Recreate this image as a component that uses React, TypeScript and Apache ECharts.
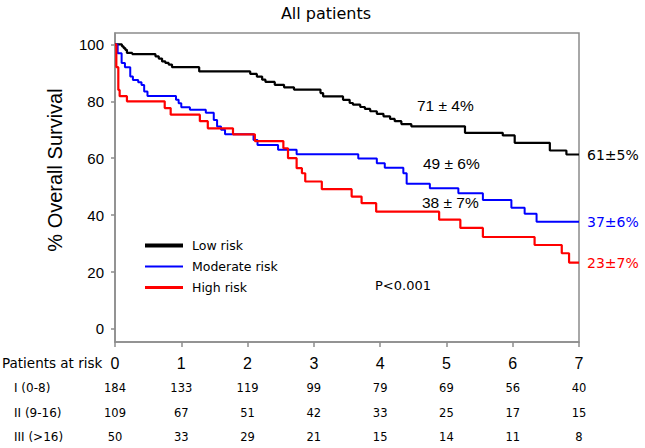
import React, { useEffect, useRef } from "react";
import * as echarts from "echarts";

// ---- Data ----
const yearTicks = [0, 1, 2, 3, 4, 5, 6, 7];
const yTickValues = [0, 20, 40, 60, 80, 100];

const lowRiskTime = [0, 0.105, 0.13, 0.155, 0.18, 0.26, 0.61, 0.66, 0.71, 0.76, 0.81, 0.86, 1.27, 2.04, 2.14, 2.22, 2.27, 2.41, 2.55, 2.7, 3.1, 3.14, 3.44, 3.54, 3.59, 3.7, 3.77, 3.85, 3.95, 4.05, 4.15, 4.22, 4.32, 4.47, 5.28, 5.85, 6.03, 6.56, 6.81, 7];
const lowRiskSurv = [100, 99.3, 98.7, 98.1, 97.0, 96.6, 95.8, 95.0, 94.0, 93.5, 92.9, 92.0, 90.5, 89.6, 88.7, 87.6, 86.8, 85.8, 84.9, 84.1, 82.9, 81.7, 80.5, 79.4, 78.8, 78.0, 77.3, 76.5, 75.6, 74.7, 73.8, 73.0, 72.0, 71.2, 68.9, 68.0, 65.4, 62.7, 61.3, 61.3];

const modRiskTime = [0, 0.04, 0.1, 0.15, 0.23, 0.27, 0.35, 0.4, 0.44, 0.49, 0.92, 0.96, 1.0, 1.13, 1.37, 1.49, 1.54, 1.6, 1.66, 2.09, 2.15, 2.46, 2.74, 3.67, 3.95, 4.07, 4.35, 4.4, 4.75, 5.18, 5.55, 5.98, 6.18, 6.36, 7];
const modRiskSurv = [100, 96.9, 93.5, 92.0, 88.7, 87.5, 86.7, 85.7, 83.4, 81.9, 80.5, 79.3, 77.9, 77.0, 76.0, 73.4, 71.1, 70.0, 68.4, 66.4, 64.6, 63.0, 61.4, 59.9, 58.2, 56.6, 54.7, 51.0, 49.4, 47.7, 45.3, 42.6, 40.5, 37.7, 37.7];

const highRiskTime = [0, 0.02, 0.05, 0.07, 0.18, 0.75, 0.84, 1.28, 1.4, 1.78, 2.11, 2.54, 2.61, 2.74, 2.82, 2.87, 3.12, 3.57, 3.72, 3.94, 4.89, 5.21, 5.55, 6.33, 6.74, 6.85, 7];
const highRiskSurv = [100, 92, 84, 81.8, 80.0, 77.6, 75.3, 73.0, 70.5, 68.4, 66.0, 63.5, 60.0, 56.5, 54.7, 51.8, 49.1, 46.5, 44.2, 41.2, 38.4, 35.5, 32.3, 29.5, 26.6, 23.3, 23.3];

const atRiskLow = [184, 133, 119, 99, 79, 69, 56, 40];
const atRiskMod = [109, 67, 51, 42, 33, 25, 17, 15];
const atRiskHigh = [50, 33, 29, 21, 15, 14, 11, 8];
const rowLabels = ["I (0-8)", "II (9-16)", "III (>16)"];

const seriesNames = ["Low risk", "Moderate risk", "High risk"];

const zip = (t: number[], v: number[]) => t.map((x, i) => [x, v[i]]);

const GRAY = "#8c8c8c";
const SANS = "DejaVu Sans";
const ARIAL = "Liberation Sans";

export default function App() {
  const ref = useRef<HTMLDivElement>(null);

  useEffect(() => {
    if (!ref.current) return;
    const chart = echarts.init(ref.current, null, { renderer: "svg" });

    const rowAxis = (vals: number[], offset: number) => ({
      type: "value",
      gridIndex: 0,
      position: "bottom",
      offset,
      min: 0,
      max: 7,
      interval: 1,
      axisLine: { show: false, onZero: false },
      axisTick: { show: false },
      splitLine: { show: false },
      axisLabel: {
        margin: 0,
        fontFamily: SANS,
        fontSize: 11.5,
        color: "#000",
        formatter: (v: number) => String(vals[Math.round(v)]),
      },
    });

    const option: any = {
      animation: false,
      textStyle: { fontFamily: SANS },
      grid: {
        left: 115,
        right: 66,
        top: 33,
        bottom: 106,
        show: true,
        borderColor: GRAY,
        borderWidth: 1.5,
        backgroundColor: "transparent",
      },
      xAxis: [
        {
          type: "value",
          min: 0,
          max: 7,
          interval: 1,
          axisLine: { show: true, onZero: false, lineStyle: { color: GRAY, width: 1.5 } },
          axisTick: { show: true, length: 5, lineStyle: { color: GRAY, width: 1.5 } },
          splitLine: { show: false },
          axisLabel: {
            margin: 13,
            fontFamily: ARIAL,
            fontSize: 16,
            color: "#000",
            formatter: (v: number) => String(yearTicks[Math.round(v)]),
          },
        },
        rowAxis(atRiskLow, 40),
        rowAxis(atRiskMod, 64.5),
        rowAxis(atRiskHigh, 89),
      ],
      yAxis: {
        type: "value",
        min: -4.6,
        max: 104,
        axisLine: { show: true, onZero: false, lineStyle: { color: GRAY, width: 1.5 } },
        axisTick: { show: true, length: 4, customValues: yTickValues, lineStyle: { color: GRAY, width: 1.5 } },
        splitLine: { show: false },
        axisLabel: {
          customValues: yTickValues,
          margin: 11,
          fontFamily: ARIAL,
          fontSize: 15,
          color: "#000",
        },
      },
      legend: {
        orient: "vertical",
        left: 140,
        top: 234,
        itemWidth: 38,
        itemHeight: 14,
        itemGap: 8,
        symbolKeepAspect: true,
        textStyle: { fontFamily: SANS, fontSize: 12.5, color: "#000", padding: [0, 0, 0, 4] },
        data: [
          { name: seriesNames[0], icon: "path://M0,0H38V4H0Z" },
          { name: seriesNames[1], icon: "path://M0,0H38V2H0Z" },
          { name: seriesNames[2], icon: "path://M0,0H38V3H0Z" },
        ],
      },
      series: [
        {
          name: seriesNames[0],
          type: "line",
          step: "end",
          symbol: "none",
          xAxisIndex: 0,
          lineStyle: { color: "#000000", width: 2.2 },
          itemStyle: { color: "#000000" },
          data: zip(lowRiskTime, lowRiskSurv),
        },
        {
          name: seriesNames[1],
          type: "line",
          step: "end",
          symbol: "none",
          xAxisIndex: 0,
          lineStyle: { color: "#0000ff", width: 2 },
          itemStyle: { color: "#0000ff" },
          data: zip(modRiskTime, modRiskSurv),
        },
        {
          name: seriesNames[2],
          type: "line",
          step: "end",
          symbol: "none",
          xAxisIndex: 0,
          lineStyle: { color: "#ff0000", width: 2.2 },
          itemStyle: { color: "#ff0000" },
          data: zip(highRiskTime, highRiskSurv),
        },
      ],
      graphic: [
        { type: "text", x: 326, y: 13, style: { text: "All patients", fontFamily: SANS, fontSize: 16, fill: "#000", align: "center", verticalAlign: "middle" } },
        { type: "text", x: 55, y: 170, rotation: Math.PI / 2, style: { text: "% Overall Survival", fontFamily: ARIAL, fontSize: 20, fill: "#000", align: "center", verticalAlign: "middle" } },
        { type: "text", x: 417, y: 105, style: { text: "71 ± 4%", fontFamily: ARIAL, fontSize: 15.5, fill: "#000", align: "left", verticalAlign: "middle" } },
        { type: "text", x: 423, y: 163, style: { text: "49 ± 6%", fontFamily: ARIAL, fontSize: 15.5, fill: "#000", align: "left", verticalAlign: "middle" } },
        { type: "text", x: 422, y: 202, style: { text: "38 ± 7%", fontFamily: ARIAL, fontSize: 15.5, fill: "#000", align: "left", verticalAlign: "middle" } },
        { type: "text", x: 587, y: 155, style: { text: "61±5%", fontFamily: SANS, fontSize: 14, fill: "#000", align: "left", verticalAlign: "middle" } },
        { type: "text", x: 587, y: 222, style: { text: "37±6%", fontFamily: SANS, fontSize: 14, fill: "#0000ff", align: "left", verticalAlign: "middle" } },
        { type: "text", x: 587, y: 263, style: { text: "23±7%", fontFamily: SANS, fontSize: 14, fill: "#ff0000", align: "left", verticalAlign: "middle" } },
        { type: "text", x: 375, y: 285, style: { text: "P<0.001", fontFamily: SANS, fontSize: 13, fill: "#000", align: "left", verticalAlign: "middle" } },
        { type: "text", x: 2, y: 363, style: { text: "Patients at risk", fontFamily: SANS, fontSize: 13.5, fill: "#000", align: "left", verticalAlign: "middle" } },
        { type: "text", x: 14, y: 388, style: { text: rowLabels[0], fontFamily: SANS, fontSize: 12, fill: "#000", align: "left", verticalAlign: "middle" } },
        { type: "text", x: 14, y: 412.5, style: { text: rowLabels[1], fontFamily: SANS, fontSize: 12, fill: "#000", align: "left", verticalAlign: "middle" } },
        { type: "text", x: 14, y: 437, style: { text: rowLabels[2], fontFamily: SANS, fontSize: 12, fill: "#000", align: "left", verticalAlign: "middle" } },
      ],
    };

    chart.setOption(option);
    return () => chart.dispose();
  }, []);

  return (
    <div
      ref={ref}
      style={{ position: "fixed", left: 0, top: 0, width: 645, height: 448, background: "#fff" }}
    />
  );
}
